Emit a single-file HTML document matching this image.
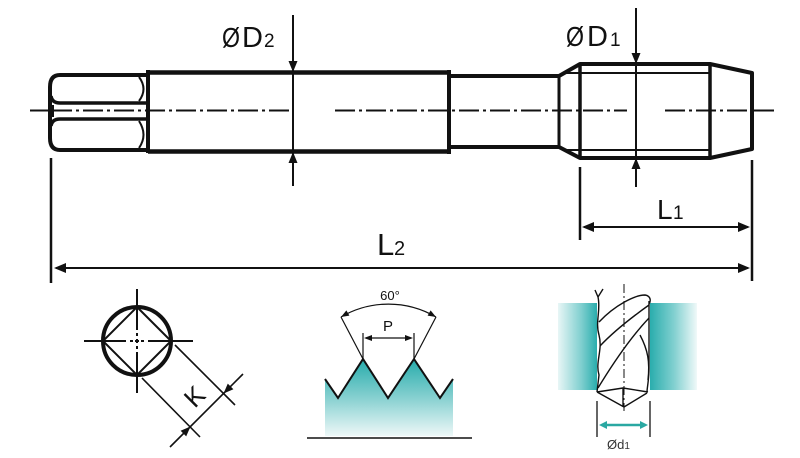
<!DOCTYPE html>
<html><head><meta charset="utf-8"><style>
html,body{margin:0;padding:0;background:#fff;}
svg{display:block;}
text{font-family:"Liberation Sans",sans-serif;}
</style></head><body>
<svg width="800" height="458" viewBox="0 0 800 458" xmlns="http://www.w3.org/2000/svg">
<defs>
<linearGradient id="thr" x1="0" y1="359" x2="0" y2="436" gradientUnits="userSpaceOnUse">
<stop offset="0" stop-color="#26abab"/><stop offset="0.5" stop-color="#86d0d0"/><stop offset="1" stop-color="#eef8f8"/>
</linearGradient>
<linearGradient id="bl" x1="558" y1="0" x2="597" y2="0" gradientUnits="userSpaceOnUse">
<stop offset="0" stop-color="#e8f6f6"/><stop offset="0.6" stop-color="#7fcfcf"/><stop offset="1" stop-color="#2aadad"/>
</linearGradient>
<linearGradient id="br" x1="650" y1="0" x2="697" y2="0" gradientUnits="userSpaceOnUse">
<stop offset="0" stop-color="#2aadad"/><stop offset="0.5" stop-color="#7fcfcf"/><stop offset="1" stop-color="#f0f9f9"/>
</linearGradient>
</defs>
<rect width="800" height="458" fill="#fff"/>

<!-- centerline -->
<g stroke="#111" stroke-width="2" fill="none">
<line x1="30" y1="110.5" x2="52" y2="110.5"/>
<line x1="52" y1="110.5" x2="290" y2="110.5" stroke-dasharray="20 4 3 4"/>
<line x1="335" y1="110.5" x2="627" y2="110.5" stroke-dasharray="20 4 3 4"/>
<line x1="665" y1="110.5" x2="752" y2="110.5" stroke-dasharray="20 4 3 4"/>
<line x1="752" y1="110.5" x2="774" y2="110.5"/>
</g>

<!-- square drive end -->
<g stroke="#111" fill="none" stroke-linejoin="round">
<path d="M148,75 H60 Q50,75 50,87 V138 Q50,150 60,150 H148" stroke-width="4"/>
<path d="M51,96 Q52,103 60,103 H146" stroke-width="3.5"/>
<path d="M51,126 Q52,119 60,119 H146" stroke-width="3.5"/>
<path d="M53,105 V117" stroke-width="2"/>
<path d="M139,77 Q148,89 139,101" stroke-width="2"/>
<path d="M139,121 Q148,135 139,148" stroke-width="2"/>
</g>

<!-- shank, neck, thread -->
<g stroke="#111" fill="none" stroke-linejoin="round">
<path d="M148,70 V153" stroke-width="4"/>
<path d="M148,72.5 H449 M148,151.5 H449" stroke-width="4.5"/>
<path d="M449,70 V154" stroke-width="4"/>
<path d="M449,76 H559 L580,64 H710 L752,73 V149 L710,158 H580 L559,147 H449" stroke-width="4"/>
<path d="M559,76 V147" stroke-width="3"/>
<path d="M580,64 V158 M710,64 V158" stroke-width="3.5"/>
<path d="M566,73 H710 M566,150 H710" stroke-width="2"/>
</g>

<!-- dimensions -->
<g stroke="#111" stroke-width="2">
<line x1="293" y1="15" x2="293" y2="186"/>
<line x1="636" y1="8" x2="636" y2="187"/>
<line x1="51" y1="158" x2="51" y2="283" stroke-width="2.5"/>
<line x1="580" y1="167" x2="580" y2="240" stroke-width="2.5"/>
<line x1="752" y1="160" x2="752" y2="281" stroke-width="2.5"/>
<line x1="584" y1="227" x2="748" y2="227"/>
<line x1="56" y1="268" x2="748" y2="268"/>
</g>
<g fill="#111">
<polygon points="293,72 288.5,61 297.5,61"/>
<polygon points="293,152 288.5,163 297.5,163"/>
<polygon points="636,64 631.5,53 640.5,53"/>
<polygon points="636,158 631.5,169 640.5,169"/>
<polygon points="582,227 594,222 594,232"/>
<polygon points="750,227 738,222 738,232"/>
<polygon points="54,268 66,263 66,273"/>
<polygon points="750,268 738,263 738,273"/>
</g>

<!-- labels -->
<text y="47" fill="#111"><tspan x="222" font-size="28" textLength="18" lengthAdjust="spacingAndGlyphs">Ø</tspan><tspan x="242" font-size="29">D</tspan><tspan x="264" font-size="19">2</tspan></text>
<text y="46" fill="#111"><tspan x="566" font-size="28" textLength="18" lengthAdjust="spacingAndGlyphs">Ø</tspan><tspan x="587" font-size="29">D</tspan><tspan x="610" font-size="19">1</tspan></text>
<text y="219" fill="#111"><tspan x="657" font-size="28">L</tspan><tspan x="673" font-size="19">1</tspan></text>
<text y="255" fill="#111"><tspan x="377" font-size="31">L</tspan><tspan x="394" font-size="20">2</tspan></text>

<!-- square section / K -->
<g stroke="#111" fill="none">
<circle cx="137" cy="341" r="34" stroke-width="4"/>
<path d="M137,307 L171,341 L137,375 L103,341 Z" stroke-width="2"/>
<path d="M84,341 H126 M130,341 H133 M135,341 H139 M141,341 H144 M148,341 H193" stroke-width="2"/>
<path d="M137,289 V330 M137,333 V336 M137,339 V343 M137,346 V349 M137,352 V393" stroke-width="2"/>
<path d="M175,345 L235,405 M142,378 L200,437" stroke-width="1.6"/>
<path d="M170,447 L243,374" stroke-width="1.6"/>
</g>
<g fill="#111">
<polygon points="190.5,426.5 186.2,436.4 180.6,430.8"/>
<polygon points="223.5,393.5 233.4,389.2 227.8,383.6"/>
</g>
<text x="196" y="398" font-size="26" fill="#111" text-anchor="middle" dominant-baseline="middle" transform="rotate(-45 196 398)">K</text>

<!-- thread profile -->
<polygon points="325,379 338,398 363,359 388,398 414,359 440,398 453,379 453,436 325,436" fill="url(#thr)"/>
<polyline points="325,379 338,398 363,359 388,398 414,359 440,398 453,379" fill="none" stroke="#111" stroke-width="2" stroke-linejoin="miter"/>
<line x1="307" y1="438" x2="472" y2="438" stroke="#111" stroke-width="1.6"/>
<g stroke="#111" fill="none" stroke-width="1.2">
<path d="M363,359 L341,317 M414,359 L436,317"/>
<path d="M341,317 A93.9,93.9 0 0 1 436,317"/>
<path d="M363,359 V333 M414,359 V333"/>
<path d="M366,338 H411"/>
</g>
<g fill="#111">
<polygon points="341,317 346.4,310.4 349.4,315.6"/>
<polygon points="436,317 430.6,310.4 427.6,315.6"/>
<polygon points="364,338 372,335 372,341"/>
<polygon points="413,338 405,335 405,341"/>
</g>
<text x="390" y="300" font-size="13" fill="#111" text-anchor="middle">60°</text>
<text x="388" y="331" font-size="15" fill="#111" text-anchor="middle">P</text>

<!-- drill -->
<rect x="558" y="303" width="39" height="87" fill="url(#bl)"/>
<rect x="650" y="303" width="47" height="87" fill="url(#br)"/>
<g stroke="#111" fill="none" stroke-width="1.4" stroke-linejoin="round">
<path d="M598,297 L595,290 M598,297 L603,289"/>
<path d="M598,297 C601,310 595,322 599,335 C603,350 595,362 599,375 L597,392"/>
<path d="M649,301 L649,368 C649,380 647,388 647,392"/>
<path d="M599,322 C615,305 635,295 645,295 C651,296 651,301 649,304"/>
<path d="M600,346 C615,330 635,315 649,305"/>
<path d="M598,388 C612,365 630,338 649,318"/>
<path d="M640,335 C648,350 650,362 648,380"/>
<path d="M597,392 L623,388 L648,392 M597,392 L624,407 L647,393 M623,388 L623,407"/>
</g>
<line x1="624" y1="284" x2="624" y2="411" stroke="#111" stroke-width="1" stroke-dasharray="9 3 2 3"/>
<g stroke="#333" stroke-width="1.5">
<line x1="597" y1="401" x2="597" y2="437"/>
<line x1="650" y1="401" x2="650" y2="437"/>
</g>
<line x1="604" y1="425" x2="643" y2="425" stroke="#2aa8a2" stroke-width="2.5"/>
<polygon points="599,425 607,421 607,429" fill="#2aa8a2"/>
<polygon points="648,425 640,421 640,429" fill="#2aa8a2"/>
<text y="449" fill="#333"><tspan x="607" font-size="13">Ød</tspan><tspan font-size="10">1</tspan></text>
</svg>
</body></html>
